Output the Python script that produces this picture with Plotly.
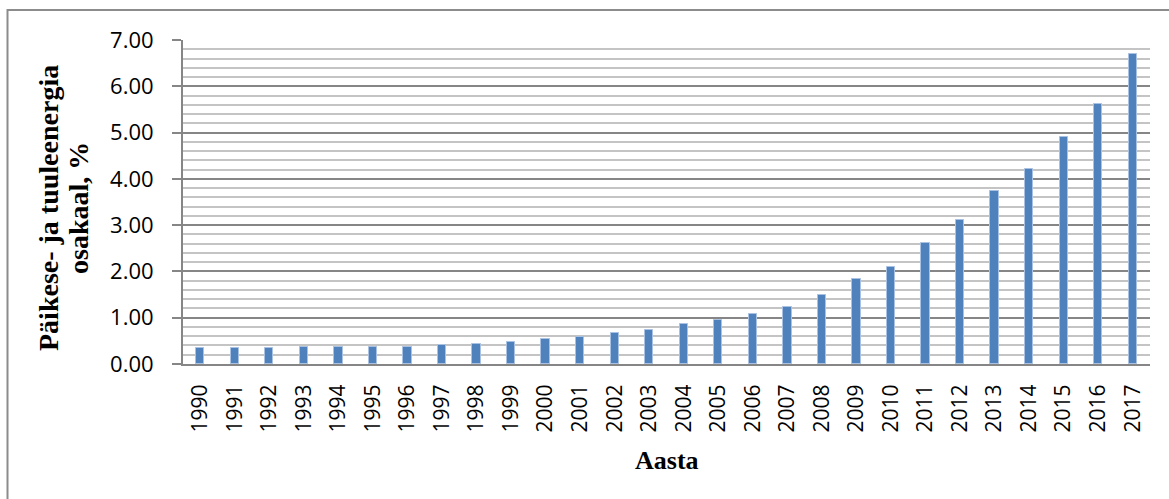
import plotly.graph_objects as go

# Share of solar and wind energy by year, %
years = [str(y) for y in range(1990, 2018)]
share = [0.34, 0.35, 0.35, 0.37, 0.37, 0.36, 0.37, 0.40, 0.43, 0.48,
         0.55, 0.59, 0.66, 0.74, 0.86, 0.96, 1.08, 1.24, 1.50, 1.84,
         2.10, 2.62, 3.12, 3.74, 4.21, 4.91, 5.61, 6.69]

y_title_lines = ["Päikese- ja tuuleenergia", "osakaal, %"]
x_title = "Aasta"

W, H = 1169, 499
L, R, T, B = 183, 19, 40, 135
pw, ph = W - L - R, H - T - B


def px_x(p):
    return (p - L) / pw


def px_y(p):
    return (H - B - p) / ph


fig = go.Figure()
fig.add_trace(go.Bar(
    x=years, y=share, width=0.24,
    marker=dict(color="#4F81BD", line=dict(color="#A9C1E2", width=1)),
))

axis_grey = "#868686"

fig.update_layout(
    width=W, height=H,
    margin=dict(l=L, r=R, t=T, b=B, pad=0),
    paper_bgcolor="white", plot_bgcolor="white",
    showlegend=False, bargap=0,
    xaxis=dict(
        type="category", tickangle=-90, showgrid=False,
        showline=True, linecolor=axis_grey, linewidth=2,
        ticks="", ticklabelstandoff=10,
        tickfont=dict(family="Open Sans", size=21, color="#000000"),
        range=[-0.5, len(years) - 0.5],
    ),
    yaxis=dict(
        range=[0, 7], dtick=1, tickformat=".2f",
        showline=True, linecolor=axis_grey, linewidth=2,
        ticks="outside", ticklen=9, tickcolor=axis_grey, tickwidth=2,
        tickfont=dict(family="Open Sans", size=22, color="#000000"),
        ticklabelstandoff=14,
        showgrid=True, gridcolor=axis_grey, gridwidth=2,
        zeroline=False,
        minor=dict(dtick=0.2, showgrid=True, gridcolor="#C4C4C4", gridwidth=2),
    ),
)

title_font = dict(family="Liberation Serif", size=28, color="#000000")
for i, line in enumerate(y_title_lines):
    fig.add_annotation(
        text="<b>%s</b>" % line, textangle=-90,
        xref="paper", yref="paper",
        x=px_x(48 + 30 * i), y=px_y(208),
        xanchor="center", yanchor="middle",
        showarrow=False, font=title_font,
    )

fig.add_annotation(
    text="<b>%s</b>" % x_title,
    xref="paper", yref="paper",
    x=0.5, y=px_y(460), xanchor="center", yanchor="middle",
    showarrow=False, font=dict(family="Liberation Serif", size=26, color="#000000"),
)

# Outer chart frame
fig.add_shape(
    type="rect", xref="paper", yref="paper",
    x0=px_x(7.5), x1=px_x(1175), y0=px_y(505), y1=px_y(10),
    line=dict(color="#8C8C8C", width=2), layer="below",
)

fig.write_html("out.html")
